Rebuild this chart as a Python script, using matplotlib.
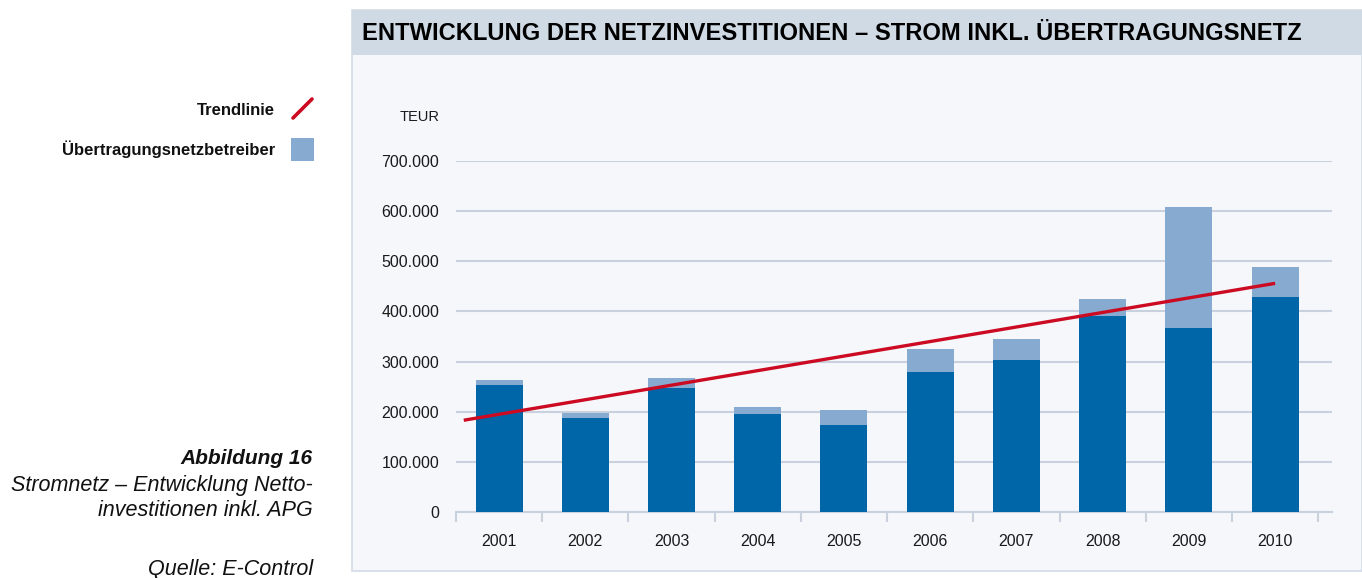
import numpy as np
import matplotlib
matplotlib.use("Agg")
import matplotlib.pyplot as plt
from matplotlib.patches import Rectangle
from matplotlib.lines import Line2D

# daten (TEUR)
jahre = ["2001", "2002", "2003", "2004", "2005", "2006", "2007", "2008", "2009", "2010"]
vnb = [253000, 187500, 247000, 195000, 173500, 279000, 303000, 391000, 367000, 429000]
gesamt = [263000, 197500, 267000, 209000, 203000, 325000, 345000, 425000, 609000, 489000]
uenb = [g - v for g, v in zip(gesamt, vnb)]
trend_x = [-0.41, 9.0]
trend_y = [183000, 456000]
y_ticks = [0, 100000, 200000, 300000, 400000, 500000, 600000, 700000]

dunkel = "#0066a8"
hell = "#86aad0"
rot = "#cc0a22"
gitter = "#c9d1de"
panel = "#f5f7fb"
band = "#d0dae4"
schrift = ["Liberation Sans", "DejaVu Sans"]

W, H = 1362, 578
fig = plt.figure(figsize=(W / 100, H / 100), dpi=100)
fig.patch.set_facecolor("white")

def fx(px):
    return px / W

def fy(py):
    return 1 - py / H

# hintergrund und titelband
fig.patches.append(Rectangle((fx(352), fy(571)), fx(1362) - fx(352), fy(10) - fy(571),
                             transform=fig.transFigure, facecolor=panel, edgecolor="#d3dbe6",
                             linewidth=1.2, zorder=-2))
fig.patches.append(Rectangle((fx(352), fy(55)), fx(1362) - fx(352), fy(10) - fy(55),
                             transform=fig.transFigure, facecolor=band, edgecolor="none", zorder=-1))

titel = fig.text(fx(362), fy(33), "ENTWICKLUNG DER NETZINVESTITIONEN – STROM INKL. ÜBERTRAGUNGSNETZ",
                 ha="left", va="center", fontsize=15, fontweight="bold", color="black",
                 family=["Liberation Sans Narrow", "Liberation Sans", "DejaVu Sans"])

ax = fig.add_axes([fx(456), fy(512), fx(1332) - fx(456), fy(161) - fy(512)])
ax.set_zorder(5)
ax.set_facecolor("none")

x = np.arange(len(jahre))
b = 0.545
ax.bar(x, vnb, width=b, color=dunkel, zorder=3)
ax.bar(x, uenb, width=b, bottom=vnb, color=hell, zorder=3)
ax.plot(trend_x, trend_y, color=rot, linewidth=2.4, solid_capstyle="butt", zorder=4)

ax.set_xlim(-0.5, 9.66)
ax.set_ylim(0, 700000)
ax.set_yticks(y_ticks)
ax.set_yticklabels([f"{v:,}".replace(",", ".") for v in y_ticks])
ax.set_xticks(x)
ax.set_xticklabels(jahre)
ax.set_xticks(np.arange(-0.5, 10, 1), minor=True)
ax.tick_params(axis="x", which="major", length=0, pad=16)
ax.tick_params(axis="x", which="minor", length=7, width=1.5, color=gitter, direction="out")
ax.tick_params(axis="y", length=0, pad=12)
for lab in ax.get_xticklabels() + ax.get_yticklabels():
    lab.set_family(schrift)
    lab.set_fontsize(11.5)
    lab.set_color("#1a1a1a")

ax.grid(axis="y", color=gitter, linewidth=1.5, zorder=0)
for s in ["top", "right", "left"]:
    ax.spines[s].set_visible(False)
ax.spines["bottom"].set_color(gitter)
ax.spines["bottom"].set_linewidth(1.5)

fig.text(fx(440), fy(117), "TEUR", ha="right", va="center", fontsize=10.5, color="#1a1a1a",
         family=schrift)

# legende links
fig.text(fx(275), fy(111), "Trendlinie", ha="right", va="center", fontsize=12,
         fontweight="bold", color="#111111", family=schrift)
fig.lines.append(Line2D([fx(293), fx(312)], [fy(118), fy(99)], transform=fig.transFigure,
                        color=rot, linewidth=2.6, solid_capstyle="round"))
fig.text(fx(275), fy(149), "Übertragungsnetzbetreiber", ha="right", va="center", fontsize=12,
         fontweight="bold", color="#111111", family=schrift)
fig.patches.append(Rectangle((fx(291), fy(161)), fx(314) - fx(291), fy(138) - fy(161),
                             transform=fig.transFigure, facecolor=hell, edgecolor="none"))

# beschriftung
fig.text(fx(313), fy(458), "Abbildung 16", ha="right", va="center", fontsize=15,
         fontweight="bold", style="italic", color="#111111", family=schrift)
fig.text(fx(313), fy(486), "Stromnetz – Entwicklung Netto-", ha="right", va="center",
         fontsize=15.5, style="italic", color="#111111", family=schrift)
fig.text(fx(313), fy(511), "investitionen inkl. APG", ha="right", va="center",
         fontsize=15.5, style="italic", color="#111111", family=schrift)
fig.text(fx(313), fy(569), "Quelle: E-Control", ha="right", va="center",
         fontsize=15.5, style="italic", color="#111111", family=schrift)

# titelbreite an vorlage anpassen
fig.canvas.draw()
bb = titel.get_window_extent()
titel.set_fontsize(15 * 936 / bb.width)

fig.savefig("out.png", dpi=100)
